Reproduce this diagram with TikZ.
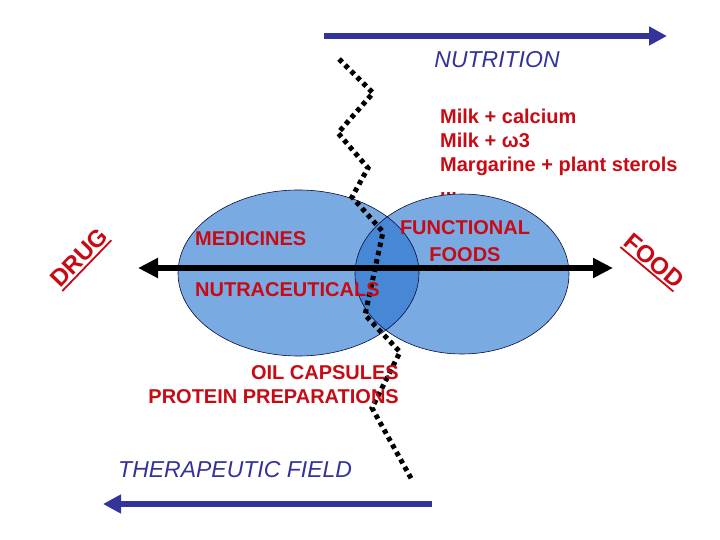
\documentclass[tikz,border=0pt]{standalone}
\usepackage{fontspec}
\setmainfont{Liberation Sans}
\usetikzlibrary{arrows.meta}
\definecolor{navyarrow}{RGB}{51,51,153}
\definecolor{labelred}{RGB}{200,10,20}
\definecolor{setblue}{RGB}{122,170,226}
\definecolor{lensblue}{RGB}{70,136,214}
\definecolor{setedge}{RGB}{10,10,60}
\newcommand{\barunder}[1]{\vtop{\hbox{#1}\kern2pt\hrule height 1.8pt}}

\begin{document}
\begin{tikzpicture}[x=1pt, y=-1pt, >={Triangle[length=20pt, width=19pt]}]
    \tikzset{
        redlabel/.style={text=labelred, font=\fontsize{20}{24}\selectfont\bfseries, inner sep=0pt},
        bluelabel/.style={text=navyarrow, font=\fontsize{23}{27}\selectfont\itshape, inner sep=0pt},
        corner/.style={text=labelred, font=\fontsize{24}{28}\selectfont\bfseries, inner sep=0pt},
        fieldarrow/.style={draw=navyarrow, line width=6pt, -{Triangle[length=18pt, width=18pt]}},
        axis/.style={draw=black, line width=6.5pt, <->},
        border/.style={draw=black, line width=5pt, dash pattern=on 4.5pt off 4pt},
        setedge/.style={draw=setedge, line width=0.6pt}
    }
    \useasboundingbox (0,0) rectangle (720,540);

        % examples of functional foods (partly hidden by the set)
        \node[redlabel, anchor=base west, align=left] (milk) at (440,196)
            {Milk + calcium\\Milk + ω3\\Margarine + plant sterols\\...};

        % the two sets and their overlap
        \coordinate (med) at (298.5,273);
        \coordinate (fun) at (462,274);
        \fill[setblue] (med) ellipse [x radius=120.5pt, y radius=83pt];
        \fill[setblue] (fun) ellipse [x radius=107pt, y radius=80pt];
        \begin{scope}
            \clip (med) ellipse [x radius=120.5pt, y radius=83pt];
            \fill[lensblue] (fun) ellipse [x radius=107pt, y radius=80pt];
        \end{scope}
        \draw[setedge] (med) ellipse [x radius=120.5pt, y radius=83pt];
        \draw[setedge] (fun) ellipse [x radius=107pt, y radius=80pt];

        % border between the two fields
        \draw[border] (339,59) -- (373,93) -- (338,133) -- (368,168) -- (352,197)
            -- (383,232) -- (365,315) -- (400,352) -- (372,408) -- (412,480);

        % axes
        \coordinate (drugend) at (138,268);
        \coordinate (foodend) at (613,268);
        \draw[axis] (drugend) -- (foodend);

        \coordinate (nutstart) at (324,36);
        \coordinate (nutend) at (667,36);
        \draw[fieldarrow] (nutstart) -- (nutend);

        \coordinate (therstart) at (432,504);
        \coordinate (therend) at (103,504);
        \draw[fieldarrow] (therstart) -- (therend);

        % labels
        \node[redlabel, anchor=base west] (medicines) at (195,245) {MEDICINES};
        \node[redlabel, anchor=base west] (nutraceuticals) at (195,296) {NUTRACEUTICALS};
        \node[redlabel, align=center, anchor=base] (functional) at (465,261) {FUNCTIONAL\\[2pt]FOODS};
        \node[redlabel, align=right, anchor=base east] (capsules) at (399,403) {OIL CAPSULES\\PROTEIN PREPARATIONS};
        \node[bluelabel, anchor=base] (nutrition) at (497,68) {NUTRITION};
        \node[bluelabel, anchor=base west] (therapeutic) at (118,477) {THERAPEUTIC FIELD};
        \node[corner, rotate=46] (drug) at (80,259) {\barunder{DRUG}};
        \node[corner, rotate=-40] (food) at (653,262) {\barunder{FOOD}};

    \end{tikzpicture}
\end{document}
